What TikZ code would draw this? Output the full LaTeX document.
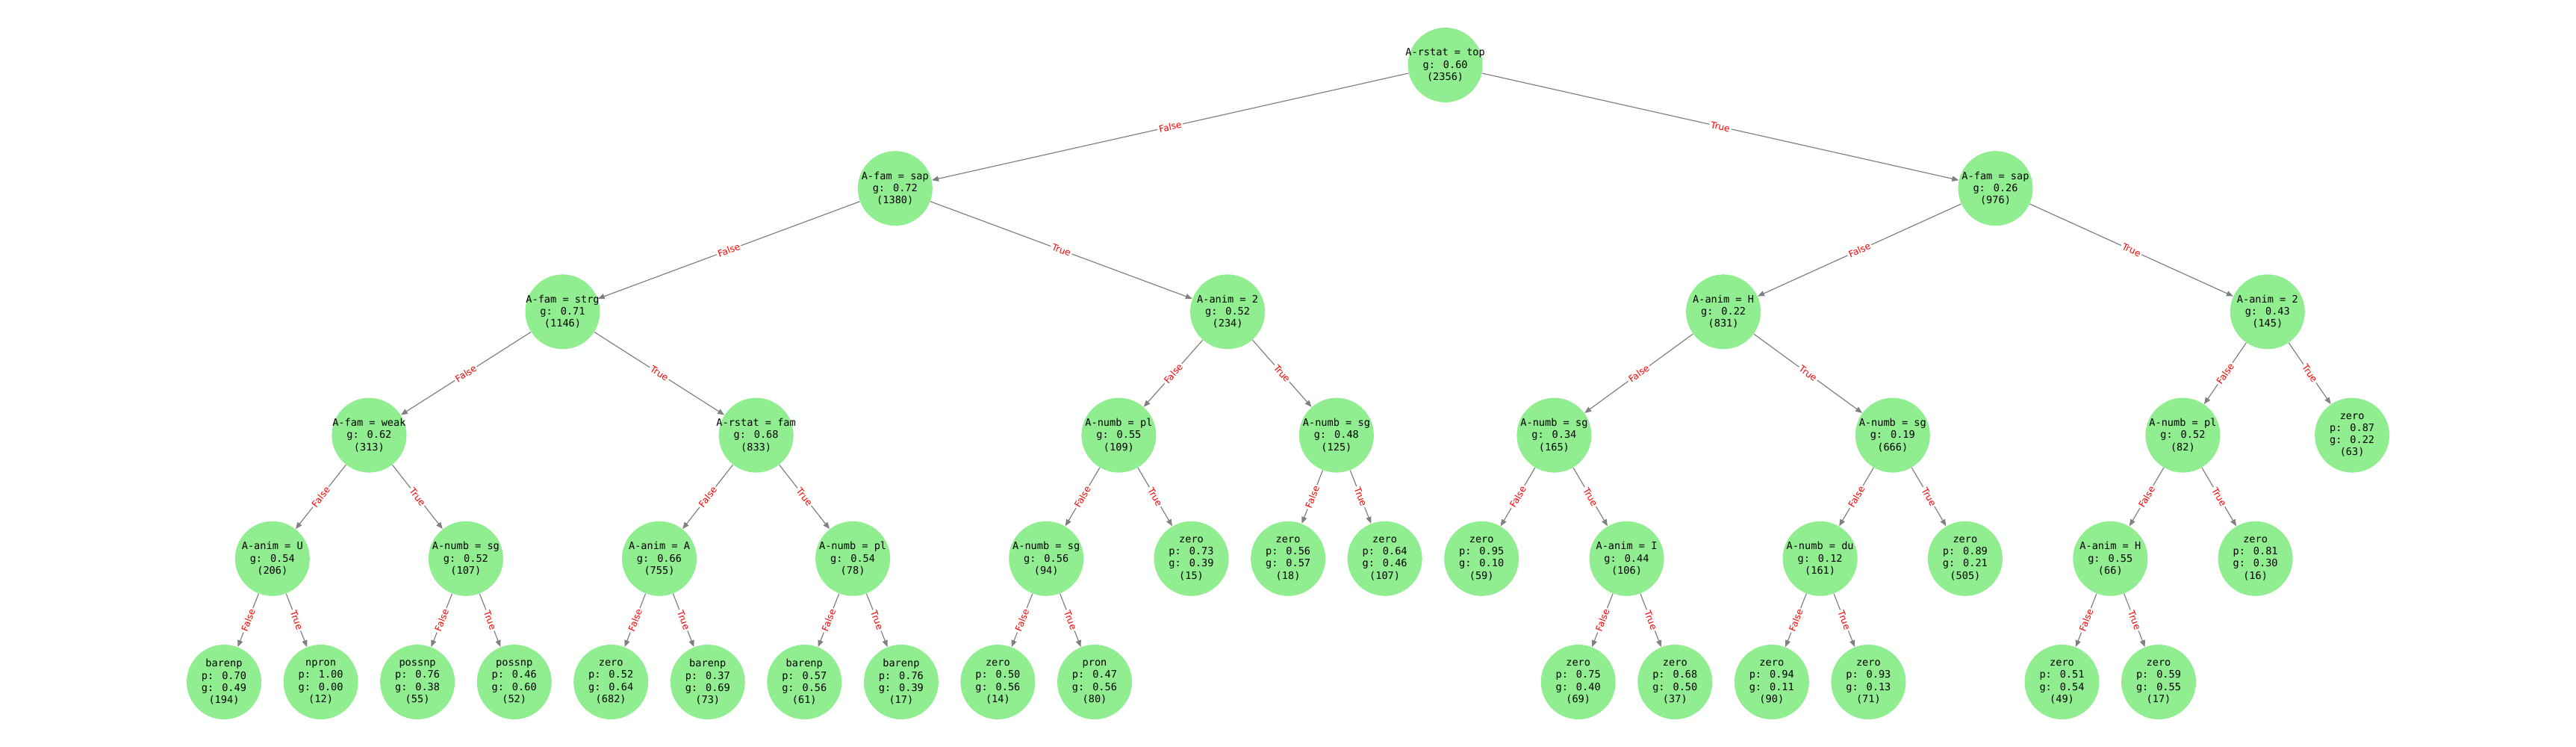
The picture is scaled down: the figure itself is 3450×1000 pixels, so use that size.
\documentclass[tikz,border=0pt]{standalone}
\usepackage{fontspec}
\usepackage{xcolor}
\usepackage{tikz}
\usetikzlibrary{arrows.meta}
\newfontfamily\nodefont{DejaVu Sans Mono}
\newfontfamily\edgefont{DejaVu Sans}
\definecolor{lightgreen}{HTML}{90EE90}
\tikzstyle{txt} = [font=\nodefont\fontsize{6.8}{8.1}\selectfont, align=center, inner sep=0pt]
\tikzstyle{arrow} = [draw=gray, line width=0.6pt, -{Triangle[length=4.5pt,width=3.6pt]}]
\tikzstyle{cond} = [midway, sloped, fill=white, text=red, font=\edgefont\fontsize{6.1}{7}\selectfont, inner sep=1pt]
\tikzset{dnode/.style={circle, fill=lightgreen, minimum size=50pt, inner sep=0pt, label={[txt]center:{#1}}}}

\begin{document}
\begin{tikzpicture}[x=0.5pt, y=-0.5pt]
   \useasboundingbox (0,0) rectangle (3450,1000);
   % splits
   \node (root) [dnode={A-rstat = top\\g: 0.60\\(2356)}] at (1935.6,87) {};
   \node (famL) [dnode={A-fam = sap\\g: 0.72\\(1380)}] at (1198.8,252.2) {};
   \node (famR) [dnode={A-fam = sap\\g: 0.26\\(976)}] at (2672.5,252.2) {};
   \node (strg) [dnode={A-fam = strg\\g: 0.71\\(1146)}] at (753.5,417.4) {};
   \node (animL) [dnode={A-anim = 2\\g: 0.52\\(234)}] at (1644.1,417.4) {};
   \node (animH) [dnode={A-anim = H\\g: 0.22\\(831)}] at (2308.1,417.4) {};
   \node (animR) [dnode={A-anim = 2\\g: 0.43\\(145)}] at (3036.8,417.4) {};
   \node (weak) [dnode={A-fam = weak\\g: 0.62\\(313)}] at (494.4,582.6) {};
   \node (rfam) [dnode={A-rstat = fam\\g: 0.68\\(833)}] at (1012.6,582.6) {};
   \node (nplA) [dnode={A-numb = pl\\g: 0.55\\(109)}] at (1498.4,582.6) {};
   \node (nsgA) [dnode={A-numb = sg\\g: 0.48\\(125)}] at (1789.9,582.6) {};
   \node (nsgB) [dnode={A-numb = sg\\g: 0.34\\(165)}] at (2081.4,582.6) {};
   \node (nsgC) [dnode={A-numb = sg\\g: 0.19\\(666)}] at (2534.8,582.6) {};
   \node (nplB) [dnode={A-numb = pl\\g: 0.52\\(82)}] at (2923.4,582.6) {};
   \node (animU) [dnode={A-anim = U\\g: 0.54\\(206)}] at (364.8,747.8) {};
   \node (nsgD) [dnode={A-numb = sg\\g: 0.52\\(107)}] at (623.9,747.8) {};
   \node (animA) [dnode={A-anim = A\\g: 0.66\\(755)}] at (883,747.8) {};
   \node (nplC) [dnode={A-numb = pl\\g: 0.54\\(78)}] at (1142.1,747.8) {};
   \node (nsgE) [dnode={A-numb = sg\\g: 0.56\\(94)}] at (1401.2,747.8) {};
   \node (animI) [dnode={A-anim = I\\g: 0.44\\(106)}] at (2178.5,747.8) {};
   \node (ndu) [dnode={A-numb = du\\g: 0.12\\(161)}] at (2437.6,747.8) {};
   \node (animHb) [dnode={A-anim = H\\g: 0.55\\(66)}] at (2826.3,747.8) {};
   % leaves
   \node (z63) [dnode={zero\\p: 0.87\\g: 0.22\\(63)}] at (3150.1,582.6) {};
   \node (z15) [dnode={zero\\p: 0.73\\g: 0.39\\(15)}] at (1595.5,747.8) {};
   \node (z18) [dnode={zero\\p: 0.56\\g: 0.57\\(18)}] at (1725.1,747.8) {};
   \node (z107) [dnode={zero\\p: 0.64\\g: 0.46\\(107)}] at (1854.6,747.8) {};
   \node (z59) [dnode={zero\\p: 0.95\\g: 0.10\\(59)}] at (1984.2,747.8) {};
   \node (z505) [dnode={zero\\p: 0.89\\g: 0.21\\(505)}] at (2631.9,747.8) {};
   \node (z16) [dnode={zero\\p: 0.81\\g: 0.30\\(16)}] at (3020.6,747.8) {};
   \node (bare194) [dnode={barenp\\p: 0.70\\g: 0.49\\(194)}] at (300,913) {};
   \node (npron) [dnode={npron\\p: 1.00\\g: 0.00\\(12)}] at (429.6,913) {};
   \node (poss55) [dnode={possnp\\p: 0.76\\g: 0.38\\(55)}] at (559.1,913) {};
   \node (poss52) [dnode={possnp\\p: 0.46\\g: 0.60\\(52)}] at (688.7,913) {};
   \node (z682) [dnode={zero\\p: 0.52\\g: 0.64\\(682)}] at (818.2,913) {};
   \node (bare73) [dnode={barenp\\p: 0.37\\g: 0.69\\(73)}] at (947.8,913) {};
   \node (bare61) [dnode={barenp\\p: 0.57\\g: 0.56\\(61)}] at (1077.3,913) {};
   \node (bare17) [dnode={barenp\\p: 0.76\\g: 0.39\\(17)}] at (1206.9,913) {};
   \node (z14) [dnode={zero\\p: 0.50\\g: 0.56\\(14)}] at (1336.4,913) {};
   \node (pron) [dnode={pron\\p: 0.47\\g: 0.56\\(80)}] at (1466,913) {};
   \node (z69) [dnode={zero\\p: 0.75\\g: 0.40\\(69)}] at (2113.7,913) {};
   \node (z37) [dnode={zero\\p: 0.68\\g: 0.50\\(37)}] at (2243.3,913) {};
   \node (z90) [dnode={zero\\p: 0.94\\g: 0.11\\(90)}] at (2372.8,913) {};
   \node (z71) [dnode={zero\\p: 0.93\\g: 0.13\\(71)}] at (2502.4,913) {};
   \node (z49) [dnode={zero\\p: 0.51\\g: 0.54\\(49)}] at (2761.5,913) {};
   \node (z17) [dnode={zero\\p: 0.59\\g: 0.55\\(17)}] at (2891,913) {};
   % branches: parent/false/true
   \foreach \p/\f/\t in {root/famL/famR, famL/strg/animL, famR/animH/animR,
      strg/weak/rfam, animL/nplA/nsgA, animH/nsgB/nsgC, animR/nplB/z63,
      weak/animU/nsgD, rfam/animA/nplC, nplA/nsgE/z15, nsgA/z18/z107,
      nsgB/z59/animI, nsgC/ndu/z505, nplB/animHb/z16,
      animU/bare194/npron, nsgD/poss55/poss52, animA/z682/bare73,
      nplC/bare61/bare17, nsgE/z14/pron, animI/z69/z37, ndu/z90/z71,
      animHb/z49/z17} {
      \draw [arrow] (\p) -- node[cond] {False} (\f);
      \draw [arrow] (\p) -- node[cond] {True} (\t);
   }
\end{tikzpicture}
\end{document}
